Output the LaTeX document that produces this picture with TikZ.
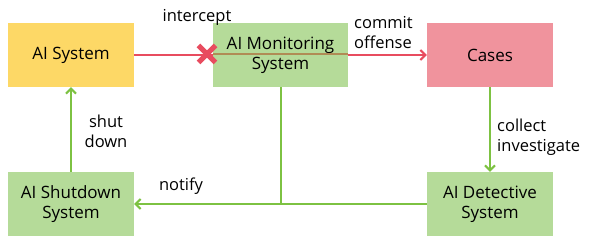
\documentclass[tikz,border=0pt]{standalone}
\usepackage{fontspec}
\setmainfont{Open Sans}
\usetikzlibrary{arrows.meta, positioning, backgrounds}
\definecolor{boxyellow}{HTML}{FDD866}
\definecolor{boxgreen}{HTML}{B5DB99}
\definecolor{boxpink}{HTML}{F0939D}
\definecolor{linered}{HTML}{E84C5F}
\definecolor{linegreen}{HTML}{7DC242}
\definecolor{linebrown}{HTML}{B08C55}

\begin{document}
\begin{tikzpicture}[x=1pt, y=-1pt,
    box/.style={minimum width=126pt, minimum height=64pt, inner sep=0pt,
      align=center, font=\fontsize{17}{20}\selectfont},
    lbl/.style={inner sep=0pt, align=left, font=\fontsize{16.5}{20}\selectfont},
    redarrow/.style={draw=linered, line width=2pt, -{Straight Barb[length=5pt,width=10pt]}},
    greenarrow/.style={draw=linegreen, line width=2pt, -{Straight Barb[length=5pt,width=10pt]}},
    greenline/.style={draw=linegreen, line width=2pt}]
  \useasboundingbox (0,0) rectangle (590,251);
  % boxes
  \node[box, fill=boxyellow] (sys) at (71,55) {AI System};
  \node[box, fill=boxgreen, minimum width=135pt] (mon) at (280.5,55) {AI Monitoring\\System};
  \node[box, fill=boxpink] (cases) at (490,55) {Cases};
  \node[box, fill=boxgreen] (shut) at (71,204) {AI Shutdown\\System};
  \node[box, fill=boxgreen] (det) at (490,204) {AI Detective\\System};
  % offense path, seen through the monitor
  \begin{scope}[on background layer]
    \draw[redarrow] (sys.east) -- (cases.west);
  \end{scope}
  \coordinate (cut) at (207,54);
  \draw[draw=linebrown, line width=2pt] (mon.west |- cut) -- (mon.east |- cut);
  \draw[draw=linered, line width=5pt] (cut) ++(-8.5,-8.5) -- ++(17,17) (cut) ++(-8.5,8.5) -- ++(17,-17);
  % response paths
  \draw[greenarrow] (cases.south) -- (det.north);
  \draw[greenarrow] (det.west) -- (shut.east);
  \draw[greenline] (mon.south) -- (mon.south |- det.west);
  \draw[greenarrow] (shut.north) -- (sys.south);
  % labels
  \node[lbl] (lintercept) at (197,17) {intercept};
  \node[lbl, anchor=west] (loffense) at (354,33) {commit\\offense};
  \node[lbl, align=center] (lshut) at (106,131) {shut\\down};
  \node[lbl, anchor=west] (lcollect) at (497,137) {collect\\investigate};
  \node[lbl] (lnotify) at (181,186) {notify};
\end{tikzpicture}
\end{document}
